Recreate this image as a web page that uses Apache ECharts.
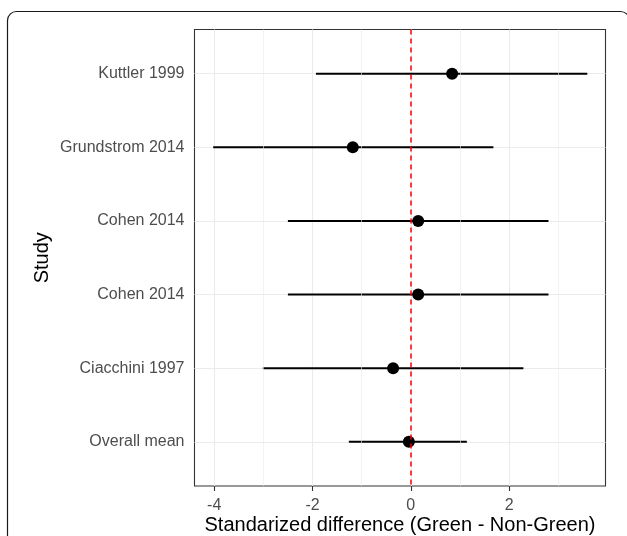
<!DOCTYPE html>
<html>
<head>
<meta charset="utf-8">
<script src="https://cdn.jsdelivr.net/npm/echarts@6/dist/echarts.min.js"></script>
<style>
  html, body { margin: 0; padding: 0; background: #ffffff; }
  #chart { width: 627px; height: 536px; }
</style>
</head>
<body>
<div id="chart"></div>
<script>
// ---- data ----
const studies = ['Kuttler 1999', 'Grundstrom 2014', 'Cohen 2014', 'Cohen 2014', 'Ciacchini 1997', 'Overall mean'];
const estimate = [0.84, -1.18, 0.15, 0.15, -0.36, -0.04];
const lower = [-1.93, -4.02, -2.50, -2.50, -3.01, -1.26];
const upper = [3.59, 1.68, 2.80, 2.80, 2.29, 1.14];
const xMajorTicks = [-4, -2, 0, 2];
const xMinorTicks = [-3, -1, 1, 3];
const referenceLine = 0;
const xTitle = 'Standarized difference (Green - Non-Green)';
const yTitle = 'Study';

// ---- build ----
const rowPos = studies.map((_, i) => i + 1);
const barData = studies.map((_, i) => [lower[i], upper[i], rowPos[i]]);
const pointData = studies.map((_, i) => [estimate[i], rowPos[i]]);

const FONT = '"Liberation Sans", Arial, sans-serif';
const chart = echarts.init(document.getElementById('chart'), null, { renderer: 'canvas' });

chart.setOption({
  animation: false,
  backgroundColor: '#ffffff',
  graphic: [{
    type: 'rect',
    shape: { x: 7.5, y: 11.5, width: 622, height: 540, r: 9 },
    style: { fill: 'none', stroke: '#1a1a1a', lineWidth: 1.2 },
    silent: true,
    z: 100
  }],
  grid: {
    left: 194.5, right: 21.5, top: 29.5, bottom: 50,
    show: true, borderColor: '#333333', borderWidth: 1.1,
    backgroundColor: 'transparent',
    containLabel: false,
    outerBoundsMode: 'none'
  },
  xAxis: {
    type: 'value',
    min: -4.40, max: 3.96,
    axisLine: { show: false },
    axisTick: { show: true, length: 5, customValues: xMajorTicks, lineStyle: { color: '#333333', width: 1.1 } },
    axisLabel: { customValues: xMajorTicks, color: '#4D4D4D', fontSize: 16, fontFamily: FONT, margin: 12,
                 formatter: v => String(Math.round(v)) },
    splitLine: { show: true, lineStyle: { color: '#EBEBEB', width: 1.1 } },
    name: xTitle, nameLocation: 'middle', nameGap: 29, nameMoveOverlap: false,
    nameTextStyle: { color: '#000000', fontSize: 20, fontFamily: FONT }
  },
  yAxis: {
    type: 'value',
    inverse: true,
    min: 0.4, max: 6.6,
    axisLine: { show: false },
    axisTick: { show: true, length: 5, customValues: rowPos, lineStyle: { color: '#333333', width: 1.1 } },
    axisLabel: { customValues: rowPos, color: '#4D4D4D', fontSize: 16, fontFamily: FONT, margin: 10,
                 formatter: v => studies[Math.round(v) - 1] || '' },
    splitLine: { show: true, lineStyle: { color: '#EBEBEB', width: 1.1 } },
    name: yTitle, nameLocation: 'middle', nameGap: 142, nameRotate: 90, nameMoveOverlap: false,
    nameTextStyle: { color: '#000000', fontSize: 20, fontFamily: FONT }
  },
  series: [
    {
      // minor vertical grid lines
      type: 'line', data: [], silent: true, z: 1,
      markLine: {
        silent: true, symbol: ['none', 'none'], label: { show: false },
        lineStyle: { color: '#EBEBEB', width: 0.6, type: 'solid', opacity: 1 },
        data: xMinorTicks.map(v => ({ xAxis: v }))
      }
    },
    {
      type: 'custom', z: 2, silent: true,
      encode: { x: [0, 1], y: 2 },
      data: barData,
      renderItem: function (params, api) {
        const p1 = api.coord([api.value(0), api.value(2)]);
        const p2 = api.coord([api.value(1), api.value(2)]);
        return {
          type: 'line',
          shape: { x1: p1[0], y1: p1[1], x2: p2[0], y2: p2[1] },
          style: { stroke: '#000000', lineWidth: 2 }
        };
      }
    },
    {
      type: 'scatter', z: 3, silent: true,
      symbol: 'circle', symbolSize: 12,
      itemStyle: { color: '#000000', opacity: 1 },
      data: pointData
    },
    {
      // dashed reference line at zero
      type: 'line', data: [], silent: true, z: 4,
      markLine: {
        silent: true, symbol: ['none', 'none'], label: { show: false },
        lineStyle: { color: '#FF0000', width: 1.5, type: [5, 4], opacity: 1 },
        emphasis: { disabled: true },
        data: [{ xAxis: referenceLine }]
      }
    }
  ]
});
</script>
</body>
</html>
